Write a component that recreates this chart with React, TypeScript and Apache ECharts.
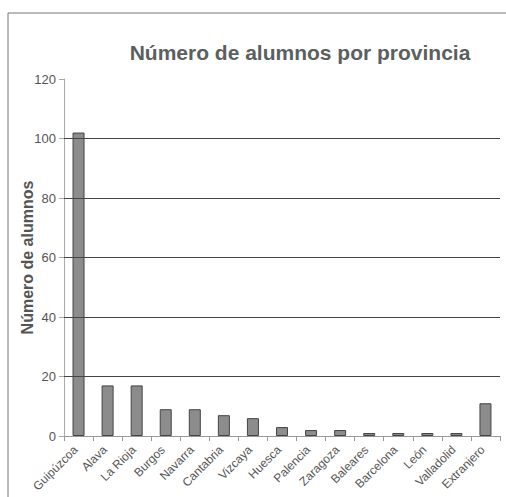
import React, { useEffect, useRef } from "react";
import * as echarts from "echarts";

const categories = ["Guipúzcoa", "Alava", "La Rioja", "Burgos", "Navarra", "Cantabria", "Vizcaya", "Huesca", "Palencia", "Zaragoza", "Baleares", "Barcelona", "León", "Valladolid", "Extranjero"];
const values = [102, 17, 17, 9, 9, 7, 6, 3, 2, 2, 1, 1, 1, 1, 11];
const gridValues = [20, 40, 60, 80, 100];

export default function App() {
  const ref = useRef<HTMLDivElement>(null);
  useEffect(() => {
    const chart = echarts.init(ref.current!, undefined, { renderer: "svg" });
    chart.setOption({
      animation: false,
      backgroundColor: "#fff",
      title: {
        text: "Número de alumnos por provincia",
        left: 295,
        top: 37,
        textAlign: "center",
        textStyle: { fontFamily: "Liberation Sans, Arial", fontSize: 21, fontWeight: "bold", color: "#5b605f" },
      },
      graphic: [
        { type: "polyline", shape: { points: [[8, 497], [8, 13], [506, 13]] }, style: { stroke: "#777", lineWidth: 1, fill: "none" }, silent: true },
      ],
      grid: { left: 64, right: 6, top: 79, bottom: 61, containLabel: false, outerBoundsMode: "none" },
      xAxis: {
        type: "category",
        data: categories,
        axisLine: { lineStyle: { color: "#999" } },
        axisTick: { show: true, alignWithLabel: false, lineStyle: { color: "#999" } },
        axisLabel: { rotate: 45, interval: 0, fontFamily: "Liberation Sans, Arial", fontSize: 12, color: "#555", margin: 9, padding: [0, 4, 0, 0] },
      },
      yAxis: {
        type: "value",
        min: 0,
        max: 120,
        interval: 20,
        name: "Número de alumnos",
        nameLocation: "middle",
        nameGap: 29,
        nameMoveOverlap: false,
        nameTextStyle: { fontFamily: "Liberation Sans, Arial", fontSize: 16, fontWeight: "bold", color: "#555" },
        axisLine: { show: true, lineStyle: { color: "#aaa" } },
        axisTick: { show: true, lineStyle: { color: "#aaa" } },
        axisLabel: { fontFamily: "Liberation Sans, Arial", fontSize: 13, color: "#555", margin: 8 },
        splitLine: { show: false },
      },
      series: [
        {
          type: "bar",
          data: values,
          barWidth: 12,
          itemStyle: { color: "#8c8c8c", borderColor: "#444", borderWidth: 1 },
          markLine: {
            silent: true,
            symbol: "none",
            label: { show: false },
            lineStyle: { color: "#444", type: "solid", width: 1 },
            data: gridValues.map((v) => ({ yAxis: v })),
          },
          z: 3,
        },
      ],
    });
    return () => chart.dispose();
  }, []);
  return <div ref={ref} style={{ width: 506, height: 497, position: "absolute", left: 0, top: 0 }} />;
}
